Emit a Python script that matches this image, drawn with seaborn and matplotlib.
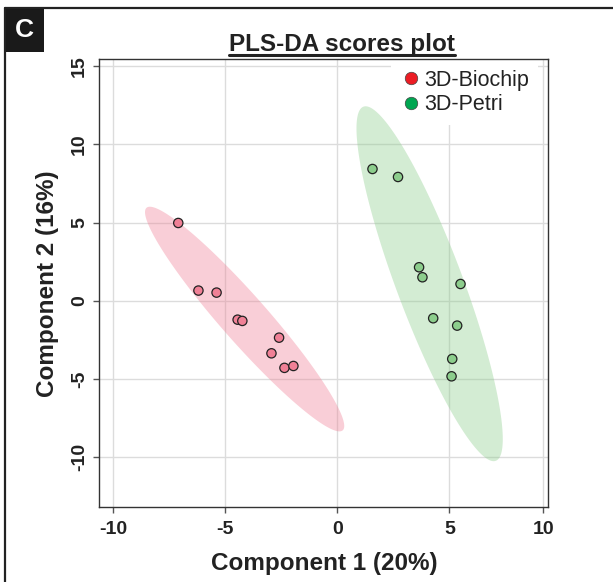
import numpy as np
import pandas as pd
import matplotlib.pyplot as plt
import seaborn as sns
from matplotlib.lines import Line2D
from matplotlib.patches import Rectangle

# PLS-DA scores
biochip_x = [-7.10, -6.20, -5.39, -4.45, -4.24, -2.60, -2.94, -2.36, -1.96]
biochip_y = [4.97, 0.65, 0.52, -1.21, -1.29, -2.36, -3.36, -4.29, -4.17]
petri_x = [1.57, 2.71, 3.65, 3.80, 5.50, 4.28, 5.35, 5.13, 5.10]
petri_y = [8.42, 7.91, 2.14, 1.50, 1.07, -1.12, -1.59, -3.72, -4.83]
groups = ['3D-Biochip', '3D-Petri']
point_colors = {'3D-Biochip': '#f08096', '3D-Petri': '#8ccd8c'}
legend_colors = {'3D-Biochip': '#ec1c24', '3D-Petri': '#00a651'}
x_ticks = [-10, -5, 0, 5]
y_ticks = [-10, -5, 0, 5, 10, 15]

df = pd.DataFrame({
    'comp1': biochip_x + petri_x,
    'comp2': biochip_y + petri_y,
    'group': [groups[0]] * len(biochip_x) + [groups[1]] * len(petri_x),
})

sns.set_style('white')
plt.rcParams['font.family'] = ['Liberation Sans', 'DejaVu Sans']

fig = plt.figure(figsize=(6.13, 5.82), dpi=100)
ax = fig.add_axes([0.162, 0.1284, 0.7325, 0.7697])


def conf_ellipse(x, y, level_chi2=5.991, n=200):
    # 95% confidence ellipse from the group covariance
    pts = np.column_stack([x, y])
    center = pts.mean(axis=0)
    cov = np.cov(pts, rowvar=False)
    vals, vecs = np.linalg.eigh(cov)
    t = np.linspace(0, 2 * np.pi, n)
    circle = np.column_stack([np.cos(t), np.sin(t)]) * np.sqrt(vals * level_chi2)
    return circle @ vecs.T + center


for g in groups:
    sub = df[df['group'] == g]
    ell = conf_ellipse(sub['comp1'], sub['comp2'])
    ax.fill(ell[:, 0], ell[:, 1], color=point_colors[g], alpha=0.38, lw=0, zorder=1)

sns.scatterplot(data=df, x='comp1', y='comp2', hue='group', palette=point_colors,
                s=45, edgecolor='#222222', linewidth=0.9, legend=False, ax=ax, zorder=3)

ax.set_xlim(-10.625, 9.42)
ax.set_ylim(-13.2, 15.43)
ax.set_xticks(x_ticks + [9.2], labels=[str(v) for v in x_ticks] + ['10'])
last = ax.xaxis.get_major_ticks()[-1]
last.tick1line.set_visible(False)
last.gridline.set_visible(False)
ax.set_yticks(y_ticks, labels=[str(v) for v in y_ticks])
ax.grid(True, color='#dcdcdc', linewidth=1.0, zorder=0)
ax.set_axisbelow(True)
ax.tick_params(axis='both', which='major', direction='out', length=4.5, width=1,
               color='#555555', labelsize=14, bottom=True, left=True)
ax.tick_params(axis='x', pad=5.5)
ax.tick_params(axis='y', pad=3.5)
for lab in ax.get_xticklabels() + ax.get_yticklabels():
    lab.set_fontweight('bold')
    lab.set_color('#222222')
plt.setp(ax.get_yticklabels(), rotation=90, va='center')
for side in ax.spines.values():
    side.set_color('#333333')
    side.set_linewidth(1.0)
    side.set_zorder(6)

ax.set_xlabel('Component 1 (20%)', fontsize=17.5, fontweight='bold', color='#222222', labelpad=10)
ax.set_ylabel('Component 2 (16%)', fontsize=17.5, fontweight='bold', color='#222222', labelpad=9)

handles = [Line2D([], [], marker='o', linestyle='', markersize=9, markerfacecolor=legend_colors[g],
                  markeredgecolor='#444444', markeredgewidth=0.5, label=g) for g in groups]
leg = ax.legend(handles=handles, loc='upper right', bbox_to_anchor=(0.978, 0.998), fontsize=15.5,
                frameon=True, framealpha=1, facecolor='white', edgecolor='none',
                handletextpad=0.1, handlelength=1.0, labelspacing=0.15, borderpad=0.45,
                borderaxespad=0.0)
for t in leg.get_texts():
    t.set_color('#222222')

# title with underline
title = fig.text(342 / 613, 1 - 44 / 582, 'PLS-DA scores plot', ha='center', va='center',
                 fontsize=17.5, fontweight='bold', color='#222222')
fig.canvas.draw()
bb = title.get_window_extent().transformed(fig.transFigure.inverted())
fig.add_artist(Line2D([bb.x0, bb.x1], [bb.y0 + 0.001, bb.y0 + 0.001], color='#222222',
                      linewidth=2.2, transform=fig.transFigure))

# panel frame and letter
fig.add_artist(Line2D([5 / 613, 1], [1 - 8 / 582, 1 - 8 / 582], color='#222222', linewidth=1.6,
                      transform=fig.transFigure))
fig.add_artist(Line2D([5 / 613, 5 / 613], [0, 1 - 8 / 582], color='#222222', linewidth=1.6,
                      transform=fig.transFigure))
fig.add_artist(Rectangle((5 / 613, 1 - 52 / 582), 39 / 613, 44 / 582, facecolor='#1a1a1a',
                         edgecolor='none', transform=fig.transFigure))
fig.text(24.5 / 613, 1 - 30 / 582, 'C', ha='center', va='center', fontsize=19,
         fontweight='bold', color='white')

fig.savefig('out.png', dpi=100)
